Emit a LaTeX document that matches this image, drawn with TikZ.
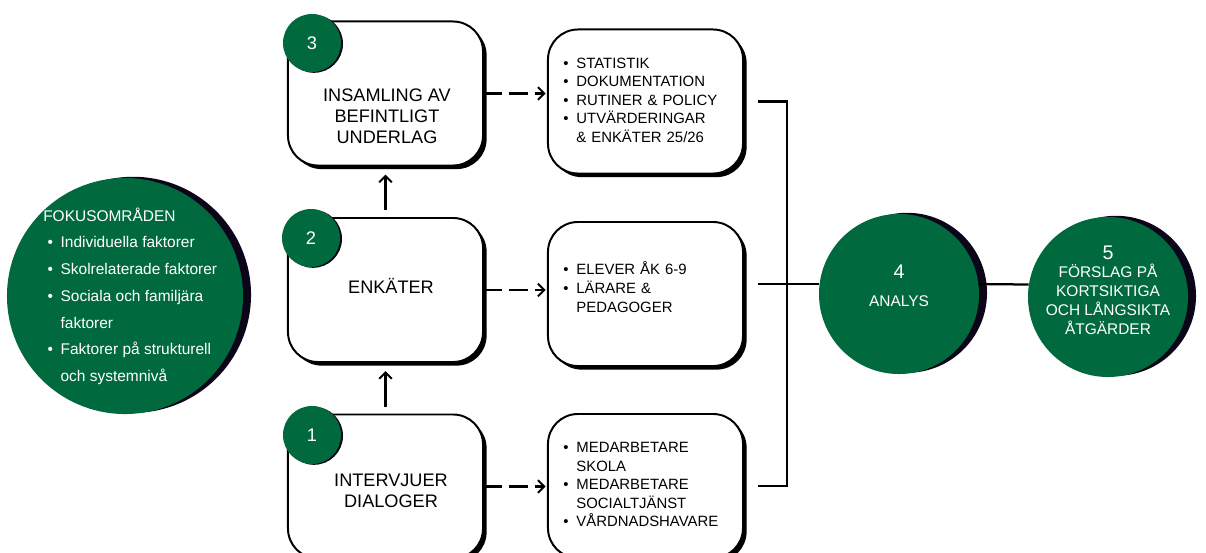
\documentclass[tikz,border=0pt]{standalone}
\usepackage{fontspec}
\setmainfont{Liberation Sans}
\usepackage{xcolor}
\usepackage{tikz}
\usetikzlibrary{arrows.meta}
\usetikzlibrary{shadows}

\definecolor{fokusgreen}{RGB}{0,106,62}
\definecolor{skugga}{RGB}{12,4,24}

\tikzset{
  steg/.style={draw, line width=1.4pt, rounded corners=0.75cm, fill=white,
    minimum width=4.875cm, minimum height=3.6cm,
    general shadow={shadow xshift=0.09cm, shadow yshift=-0.09cm, fill=black}},
  kalla/.style={steg, text width=4.1cm, inner sep=0.35cm, align=left,
    font=\fontsize{10.6}{13.2}\selectfont},
  nummer/.style={circle, fill=fokusgreen, text=white, minimum size=1.45cm, inner sep=0pt,
    font=\fontsize{13}{15}\selectfont,
    general shadow={shadow xshift=0.05cm, shadow yshift=-0.02cm, fill=skugga}},
  rund/.style={circle, fill=fokusgreen, inner sep=0pt, minimum size=4cm,
    general shadow={shadow xshift=0.2cm, shadow yshift=0.03cm, fill=skugga}},
  vittext/.style={text=white, align=center, inner sep=0pt},
  steglabel/.style={align=center, inner sep=0pt, font=\fontsize{12.9}{15}\selectfont},
  pil/.style={-{Straight Barb[length=4.5pt,width=9pt,line width=1.4pt]}, line width=1.6pt},
  streckpil/.style={pil, dash pattern=on 13pt off 5pt},
  linje/.style={line width=1.6pt},
}

\begin{document}
\begin{tikzpicture}[x=0.025cm, y=-0.025cm]
  \useasboundingbox (0,0) rectangle (1206,553);

  \node[rund, minimum size=5.9cm] (fokus) at (125,296) {};
  \node[vittext, anchor=west, align=left, font=\fontsize{11}{19}\selectfont] (fokus-txt) at (43,296) {%
    \begin{tabular}{@{\hspace{3pt}}l@{\hspace{5.5pt}}l@{}}
      \multicolumn{2}{@{}l@{}}{FOKUSOMRÅDEN}\\
      \textbullet & Individuella faktorer\\
      \textbullet & Skolrelaterade faktorer\\
      \textbullet & Sociala och familjära\\
                  & faktorer\\
      \textbullet & Faktorer på strukturell\\
                  & och systemnivå
    \end{tabular}};

  \node[steg] (ins) at (385.5,93.5) {};
  \node[steg] (enk) at (385.5,290) {};
  \node[steg] (int) at (385.5,486.5) {};
  \node[steglabel] (ins-txt) at (387,116) {INSAMLING AV\\BEFINTLIGT\\UNDERLAG};
  \node[steglabel] (enk-txt) at (391,286) {ENKÄTER};
  \node[steglabel] (int-txt) at (391,491) {INTERVJUER\\DIALOGER};
  \node[nummer] (n3) at (312,43) {3};
  \node[nummer] (n2) at (311,238) {2};
  \node[nummer] (n1) at (312,435) {1};

  \node[kalla] (insrc) at (645.5,101.5) {%
    \begin{tabular}{@{}l@{\hspace{5.5pt}}l@{}}
      \textbullet & STATISTIK\\
      \textbullet & DOKUMENTATION\\
      \textbullet & RUTINER \& POLICY\\
      \textbullet & UTVÄRDERINGAR\\
                  & \& ENKÄTER 25/26
    \end{tabular}};
  \node[kalla] (enksrc) at (645.5,294) {%
    \begin{tabular}{@{}l@{\hspace{5.5pt}}l@{}}
      \textbullet & ELEVER ÅK 6-9\\
      \textbullet & LÄRARE \&\\
                  & PEDAGOGER\\[6pt]
    \end{tabular}};
  \node[kalla] (intsrc) at (645.5,486) {%
    \begin{tabular}{@{}l@{\hspace{5.5pt}}l@{}}
      \textbullet & MEDARBETARE\\
                  & SKOLA\\
      \textbullet & MEDARBETARE\\
                  & SOCIALTJÄNST\\
      \textbullet & VÅRDNADSHAVARE
    \end{tabular}};

  \node[rund] (analys) at (899,294) {};
  \node[rund] (forslag) at (1108,297) {};
  \node[vittext, font=\fontsize{11}{13.3}\selectfont] (analys-txt) at (899,286)
    {{\fontsize{14}{16}\selectfont 4}\\[7pt]ANALYS};
  \node[vittext, font=\fontsize{11}{13.3}\selectfont] (forslag-txt) at (1108,290)
    {{\fontsize{14}{16}\selectfont 5}\\FÖRSLAG PÅ\\KORTSIKTIGA\\OCH LÅNGSIKTA\\ÅTGÄRDER};

  \draw[pil, shorten <=0.17cm, shorten >=0.2cm] (int.north) -- (enk.south);
  \draw[pil, shorten <=0.17cm, shorten >=0.2cm] (enk.north) -- (ins.south);

  \draw[streckpil, shorten >=1pt] (ins.east) -- (ins.east -| insrc.west);
  \draw[streckpil, shorten >=1pt] (enk.east) -- (enk.east -| enksrc.west);
  \draw[streckpil, shorten >=1pt] (int.east) -- (int.east -| intsrc.west);

  \coordinate (samling) at (787,284);
  \draw[linje] ([xshift=0.35cm]insrc.east) -| (samling) |- ([xshift=0.35cm]intsrc.east);
  \draw[linje, shorten >=0.35cm] (analys.173) -- (analys.173 -| enksrc.east);
  \draw[linje] (analys.7) -- (forslag.171);
\end{tikzpicture}
\end{document}
